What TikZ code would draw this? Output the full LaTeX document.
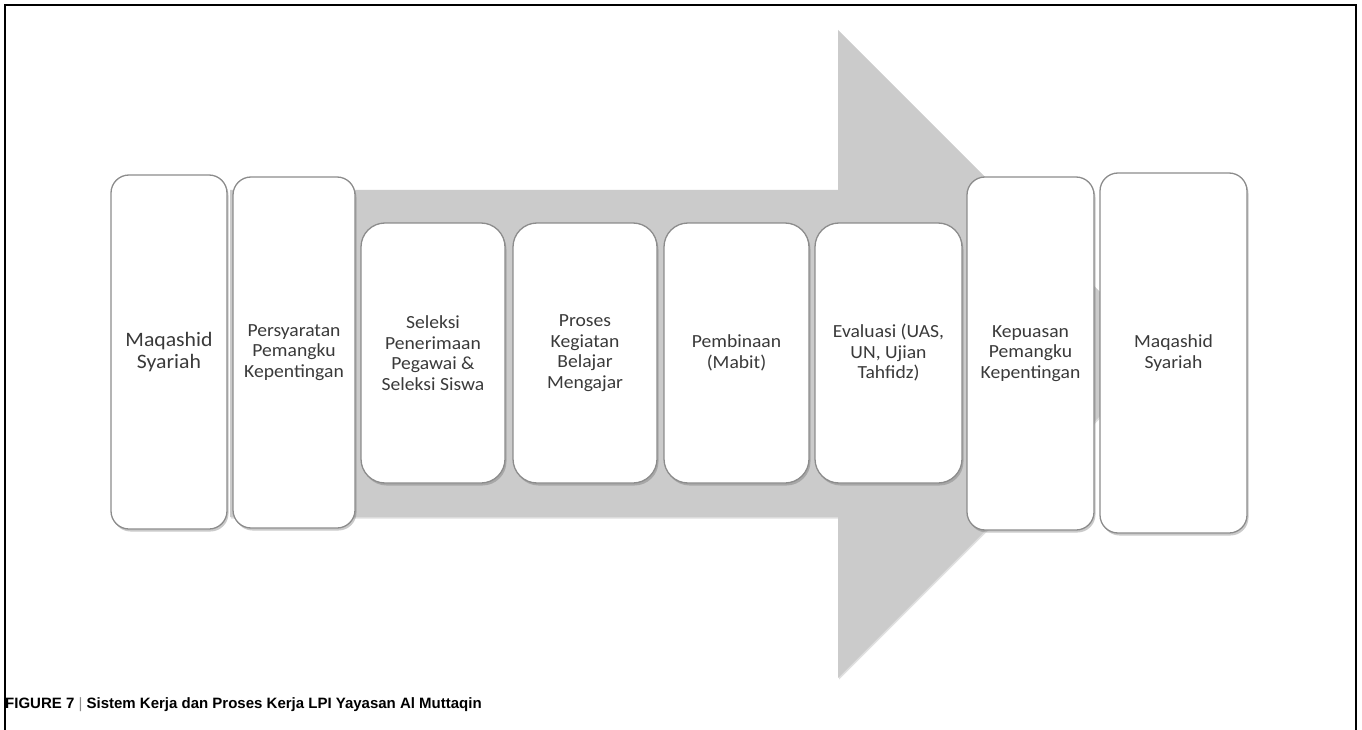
\documentclass[tikz,border=0pt]{standalone}
\usepackage{fontspec}
\setmainfont[FakeStretch=1.06]{Carlito}
\newfontfamily\capfont{Liberation Sans}
\usetikzlibrary{shadows}
\definecolor{arrowgray}{HTML}{CBCBCB}
\definecolor{boxedge}{HTML}{8C8C8C}
\definecolor{txtgray}{HTML}{3A3A3A}
\tikzset{
  card/.style={draw=boxedge, line width=1.3pt, fill=white, rounded corners=18pt,
    align=center, text=txtgray, inner sep=4pt,
    drop shadow={opacity=0.35, shadow xshift=1.5pt, shadow yshift=-2.5pt, fill=black!60}},
  cardtext/.style={font=\fontsize{18.5}{20.5}\selectfont},
  bigtext/.style={font=\fontsize{20.5}{22}\selectfont},
  midtext/.style={font=\fontsize{18.5}{20.5}\selectfont},
  bigarrow/.style={fill=arrowgray, draw=none,
    drop shadow={opacity=0.25, shadow xshift=1pt, shadow yshift=-1.5pt, fill=black!50}},
  frameline/.style={line width=2pt, black}
}
\begin{document}
\begin{tikzpicture}[x=1pt,y=-1pt]
\useasboundingbox (0,0) rectangle (1362,730);
% frame
\draw[frameline] (5,731) -- (5,5) -- (1356,5) -- (1356,731);
% big arrow
\coordinate (a1) at (230,190);
\coordinate (a2) at (838,190);
\coordinate (a3) at (838,30);
\coordinate (a4) at (1162,354);
\coordinate (a5) at (838,678);
\coordinate (a6) at (838,517);
\coordinate (a7) at (230,517);
\fill[bigarrow] (a1) -- (a2) -- (a3) -- (a4) -- (a5) -- (a6) -- (a7) -- cycle;
% cards
\node[card, bigtext, minimum width=116pt, minimum height=354pt] (m1) at (169,352) {Maqashid\\Syariah};
\node[card, cardtext, minimum width=122pt, minimum height=351pt] (p1) at (294,352.5) {Persyaratan\\Pemangku\\Kepentingan};
\node[card, cardtext, minimum width=144pt, minimum height=260pt, rounded corners=24pt] (s1) at (433,353) {Seleksi\\Penerimaan\\Pegawai \&\\Seleksi Siswa};
\node[card, cardtext, minimum width=144pt, minimum height=260pt, rounded corners=24pt] (pk) at (585,353) {Proses\\Kegiatan\\Belajar\\Mengajar};
\node[card, cardtext, minimum width=145pt, minimum height=260pt, rounded corners=24pt] (pb) at (736.5,353) {Pembinaan\\(Mabit)};
\node[card, cardtext, minimum width=147pt, minimum height=260pt, rounded corners=24pt] (ev) at (888.5,353) {Evaluasi (UAS,\\UN, Ujian\\Tahfidz)};
\node[card, cardtext, minimum width=127pt, minimum height=353pt] (kp) at (1030.5,353.5) {Kepuasan\\Pemangku\\Kepentingan};
\node[card, midtext, minimum width=147pt, minimum height=360pt] (m2) at (1173.5,353) {Maqashid\\Syariah};
% caption
\node[anchor=base west, inner sep=0pt, font=\capfont\bfseries\fontsize{15}{17}\selectfont] (cap) at (5,708)
  {FIGURE 7 {\color{black!45}\mdseries|} Sistem Kerja dan Proses Kerja LPI Yayasan Al Muttaqin};
\end{tikzpicture}
\end{document}
